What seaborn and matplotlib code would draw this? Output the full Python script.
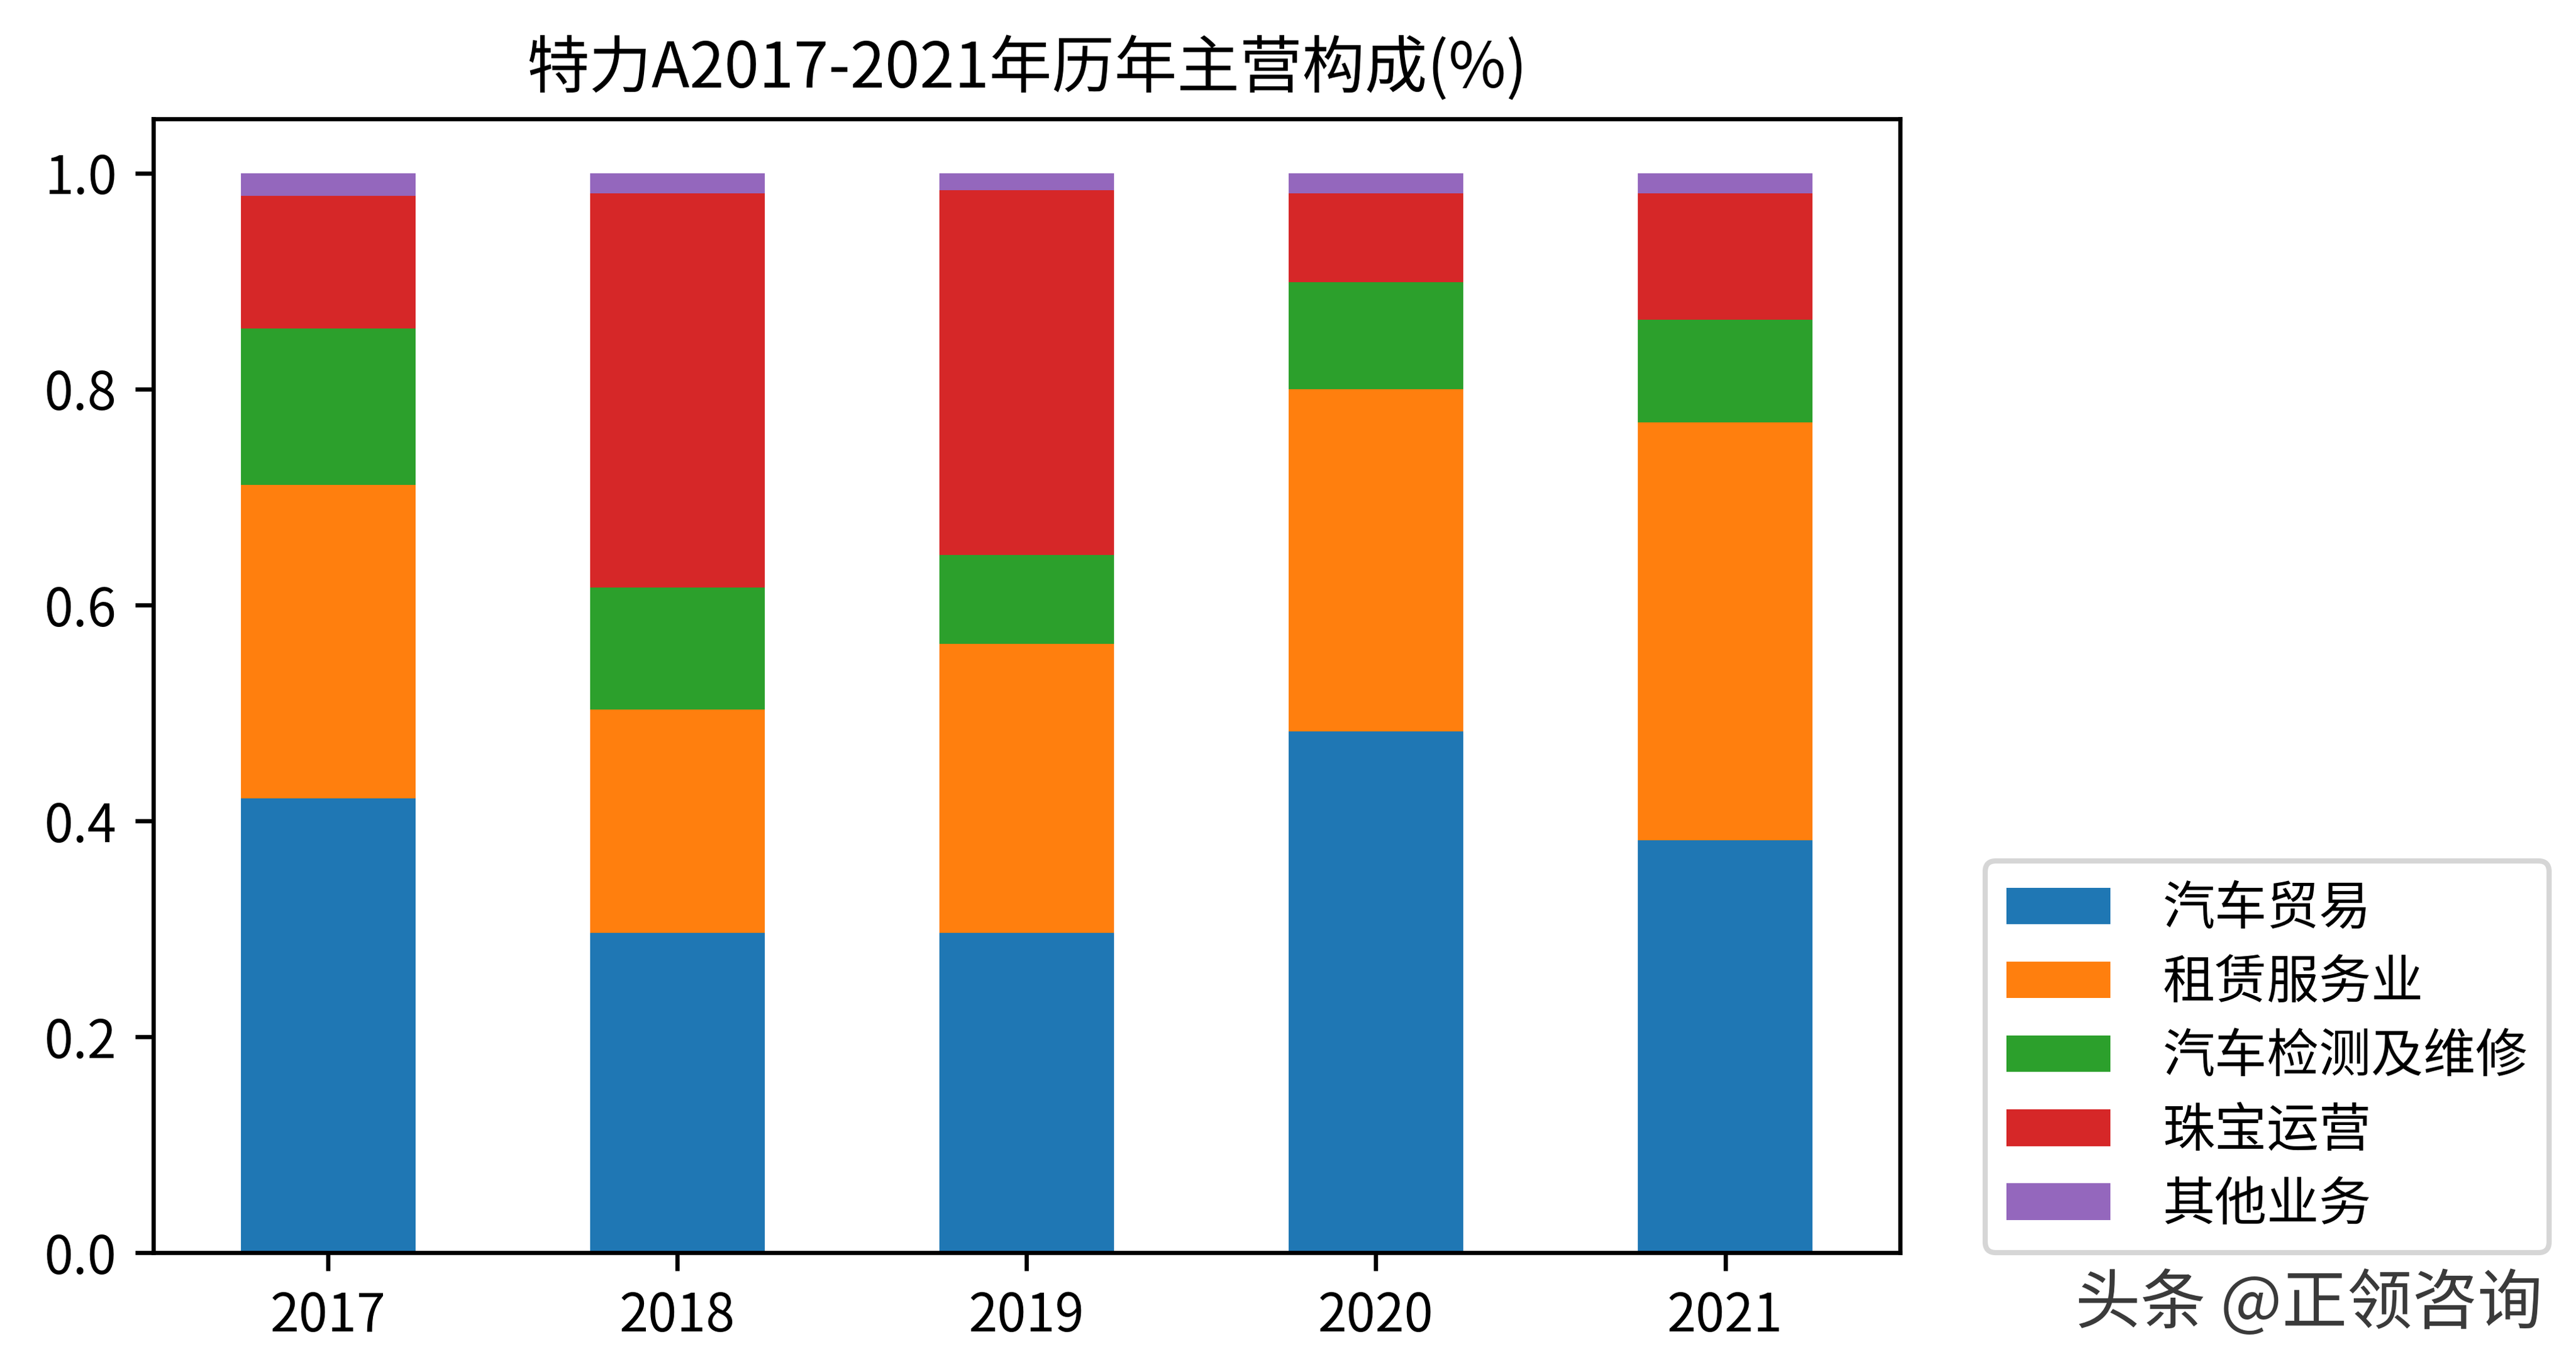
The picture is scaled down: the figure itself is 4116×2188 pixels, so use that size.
import numpy as np
import pandas as pd
import seaborn as sns
import matplotlib.pyplot as plt
from matplotlib.patches import Patch

# data (share of main business, each year sums to ~1)
years = ["2017", "2018", "2019", "2020", "2021"]
segments = ["汽车贸易", "租赁服务业", "汽车检测及维修", "珠宝运营", "其他业务"]
car_trade = [0.421, 0.296, 0.296, 0.483, 0.382]
leasing = [0.290, 0.207, 0.268, 0.317, 0.387]
inspection = [0.145, 0.113, 0.082, 0.099, 0.095]
jewelry = [0.123, 0.365, 0.338, 0.082, 0.117]
other = [0.021, 0.019, 0.016, 0.019, 0.019]

colors = ["#1f77b4", "#ff7f0e", "#2ca02c", "#d62728", "#9467bd"]

plt.rcParams['font.family'] = ['Noto Sans CJK SC', 'DejaVu Sans']
plt.rcParams['axes.unicode_minus'] = False

df = pd.DataFrame(
    {"year": years, "汽车贸易": car_trade, "租赁服务业": leasing,
     "汽车检测及维修": inspection, "珠宝运营": jewelry, "其他业务": other}
)
# cumulative tops, drawn from the top layer down so each band shows through
cum = df[segments].cumsum(axis=1)

fig, ax = plt.subplots(figsize=(6.86, 3.6467), dpi=600)
fig.subplots_adjust(left=0.0596, right=0.7375, top=0.913, bottom=0.085)

for seg, col in reversed(list(zip(segments, colors))):
    sns.barplot(x=df["year"], y=cum[seg], color=col, saturation=1,
                width=0.5, ax=ax)

ax.set_xlabel("")
ax.set_ylabel("")
ax.set_ylim(0, 1.05)
ax.set_title("特力A2017-2021年历年主营构成(%)")

handles = [Patch(facecolor=c, label=s) for s, c in zip(segments, colors)]
ax.legend(handles=handles, loc="lower left", bbox_to_anchor=(1.049, 0),
          borderaxespad=0, labelspacing=0.38, handletextpad=1.0)

fig.text(0.987, 0.047, "头条 @正领咨询", ha="right", va="center",
         fontsize=12.5, color="#3a3a3a")

plt.savefig("out.png", dpi=600)
